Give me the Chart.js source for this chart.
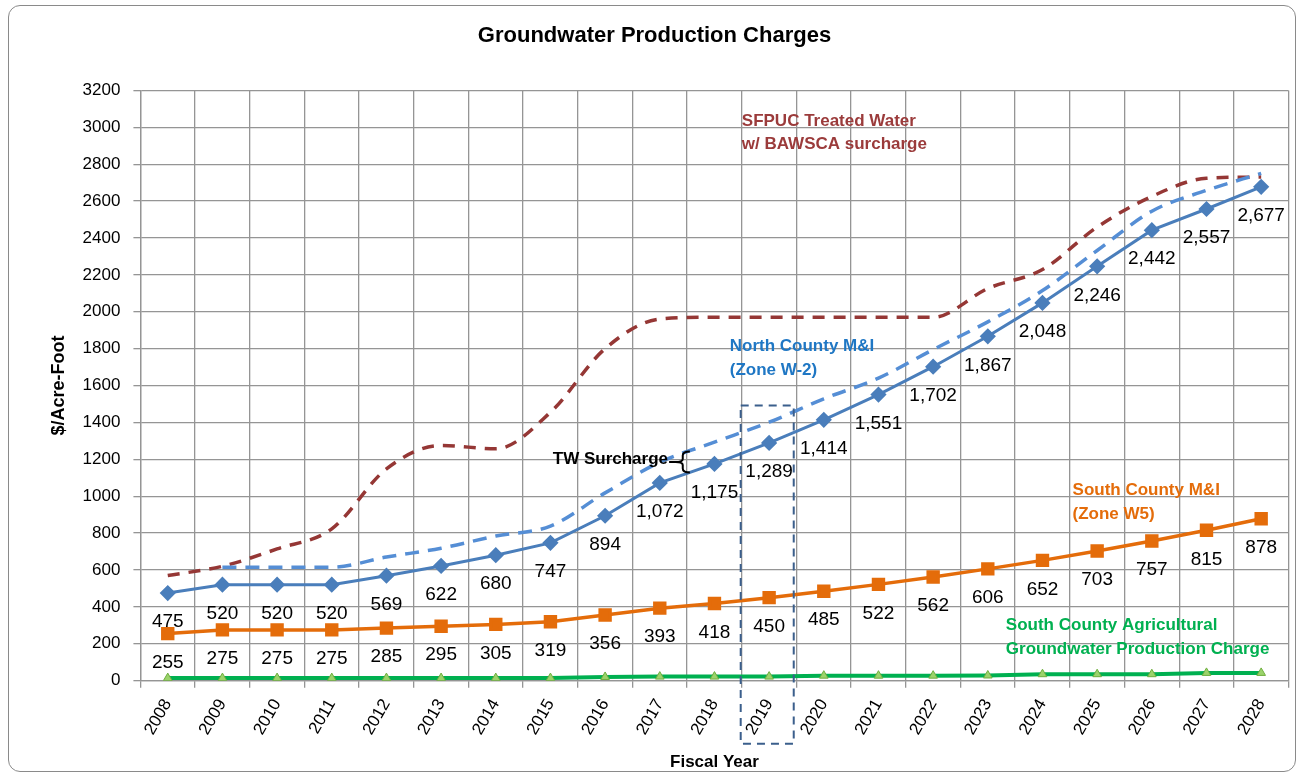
<!DOCTYPE html>
<html>
<head>
<meta charset="utf-8">
<title>Groundwater Production Charges</title>
<script src="https://cdn.jsdelivr.net/npm/chart.js@4.4.1/dist/chart.umd.min.js"></script>
<style>
  html, body { margin: 0; padding: 0; background: #fff; }
  #wrap { position: relative; width: 1299px; height: 775px; }
  #chart { position: absolute; left: 0; top: 0; }
  #frame { position: absolute; left: 8px; top: 5px; width: 1286px; height: 765px;
           border: 1px solid #8a8a8a; border-radius: 12px; pointer-events: none; }
</style>
</head>
<body>
<div id="wrap">
  <canvas id="chart" width="1299" height="775"></canvas>
  <div id="frame"></div>
</div>
<script>
// fiscal years on the x axis
const years = ['2008','2009','2010','2011','2012','2013','2014','2015','2016','2017','2018',
               '2019','2020','2021','2022','2023','2024','2025','2026','2027','2028'];

// $/acre-foot
const northCounty = [475, 520, 520, 520, 569, 622, 680, 747, 894, 1072, 1175,
                     1289, 1414, 1551, 1702, 1867, 2048, 2246, 2442, 2557, 2677];
const northWithSurcharge = [null, 615, 615, 615, 670, 718, 784, 838, 1018, 1184, 1293,
                            1401, 1528, 1640, 1795, 1945, 2115, 2332, 2545, 2658, 2750];
const sfpucTreated = [570, 620, 714, 823, 1148, 1275, 1257, 1455, 1800, 1960, 1970,
                      1970, 1970, 1970, 1970, 2126, 2229, 2459, 2625, 2724, 2730];
const southCounty = [255, 275, 275, 275, 285, 295, 305, 319, 356, 393, 418,
                     450, 485, 522, 562, 606, 652, 703, 757, 815, 878];
const southAg = [14, 14, 14, 14, 14, 14, 14, 14, 20, 22, 22,
                 22, 27, 27, 27, 28, 35, 35, 35, 42, 42];

const yMin = 0, yMax = 3200, yStep = 200;

const FONT = '"Liberation Sans", Arial, sans-serif';
const GRID = '#959595';

// value labels under the markers
const pointLabels = {
  id: 'pointLabels',
  afterDatasetsDraw(chart) {
    const ctx = chart.ctx;
    chart.data.datasets.forEach((ds, i) => {
      if (!ds.showValues) return;
      const meta = chart.getDatasetMeta(i);
      ctx.save();
      ctx.font = '19px ' + FONT;
      ctx.fillStyle = '#000';
      ctx.textAlign = 'center';
      ctx.textBaseline = 'middle';
      meta.data.forEach((pt, j) => {
        ctx.fillText(ds.data[j].toLocaleString('en-US'), pt.x, pt.y + 29);
      });
      ctx.restore();
    });
  }
};

// series names, the TW surcharge brace and the 2019 box
const notes = {
  id: 'notes',
  afterDatasetsDraw(chart) {
    const ctx = chart.ctx;
    const xs = chart.scales.x, ys = chart.scales.y;
    const X = v => xs.getPixelForValue(v), Y = v => ys.getPixelForValue(v);

    ctx.save();
    // current year box
    ctx.strokeStyle = '#3b5f8c';
    ctx.lineWidth = 2;
    ctx.setLineDash([8, 6]);
    ctx.strokeRect(X(10.48), Y(1492), X(11.45) - X(10.48), chart.chartArea.bottom + 63 - Y(1492));
    ctx.setLineDash([]);

    const text = (str, x, y, color, align) => {
      ctx.fillStyle = color;
      ctx.textAlign = align || 'left';
      ctx.fillText(str, x, y);
    };
    ctx.font = 'bold 17px ' + FONT;
    ctx.textBaseline = 'middle';
    text('SFPUC Treated Water', X(10.5), Y(3032), '#9b3b3b');
    text('w/ BAWSCA surcharge', X(10.5), Y(2907), '#9b3b3b');
    text('North County M&I', X(10.28), Y(1811), '#1f77c4');
    text('(Zone W-2)', X(10.28), Y(1681), '#1f77c4');
    text('South County M&I', X(16.55), Y(1030), '#e46c0a');
    text('(Zone W5)', X(16.55), Y(900), '#e46c0a');
    text('South County Agricultural', X(15.33), Y(298), '#00b050');
    text('Groundwater Production Charge', X(15.33), Y(168), '#00b050');
    text('TW Surcharge', X(9.15), Y(1199), '#000', 'right');

    // brace
    const bx = X(9.42), top = Y(1242), bot = Y(1128), mid = (top + bot) / 2;
    ctx.strokeStyle = '#000';
    ctx.lineWidth = 2;
    ctx.beginPath();
    ctx.moveTo(X(9.55), top);
    ctx.quadraticCurveTo(bx, top, bx, top + 4);
    ctx.lineTo(bx, mid - 3);
    ctx.quadraticCurveTo(bx, mid, X(9.29), mid);
    ctx.quadraticCurveTo(bx, mid, bx, mid + 3);
    ctx.lineTo(bx, bot - 4);
    ctx.quadraticCurveTo(bx, bot, X(9.55), bot);
    ctx.moveTo(X(9.29), mid);
    ctx.lineTo(X(9.17), mid);
    ctx.stroke();
    ctx.restore();
  }
};

new Chart(document.getElementById('chart'), {
  type: 'line',
  data: {
    labels: years,
    datasets: [
      {
        label: 'North County M&I (Zone W-2)',
        data: northCounty,
        borderColor: '#4a7ebb',
        backgroundColor: '#4a7ebb',
        borderWidth: 3,
        pointStyle: 'rectRot',
        pointRadius: 6,
        pointHoverRadius: 6,
        tension: 0,
        showValues: true,
        order: 1
      },
      {
        label: 'North County with TW surcharge',
        data: northWithSurcharge,
        borderColor: '#558ed5',
        borderWidth: 3.5,
        borderDash: [14, 9],
        pointRadius: 0,
        cubicInterpolationMode: 'monotone',
        order: 3
      },
      {
        label: 'SFPUC Treated Water w/ BAWSCA surcharge',
        data: sfpucTreated,
        borderColor: '#953735',
        borderWidth: 3.5,
        borderDash: [12, 9],
        pointRadius: 0,
        cubicInterpolationMode: 'monotone',
        order: 4
      },
      {
        label: 'South County M&I (Zone W5)',
        data: southCounty,
        borderColor: '#e46c0a',
        backgroundColor: '#e46c0a',
        borderWidth: 3.5,
        pointStyle: 'rect',
        pointRadius: 7,
        pointHoverRadius: 7,
        tension: 0,
        showValues: true,
        order: 2
      },
      {
        label: 'South County Agricultural Groundwater Production Charge',
        data: southAg,
        borderColor: '#00b050',
        backgroundColor: '#9bd36b',
        pointBorderColor: '#6fae3f',
        pointBorderWidth: 1,
        borderWidth: 4,
        pointStyle: 'triangle',
        pointRadius: 5,
        tension: 0,
        order: 5
      }
    ]
  },
  options: {
    responsive: false,
    animation: false,
    layout: { padding: { top: 9, left: 20, right: 10, bottom: 2 } },
    plugins: {
      legend: { display: false },
      tooltip: { enabled: false },
      title: {
        display: true,
        text: 'Groundwater Production Charges',
        color: '#000',
        font: { family: FONT, size: 22, weight: 'bold' },
        padding: { top: 14, bottom: 41 }
      }
    },
    scales: {
      x: {
        offset: true,
        grid: { offset: true, color: GRID, lineWidth: 1.3, tickLength: 7 },
        border: { color: GRID, width: 1.3 },
        ticks: { color: '#000', font: { family: FONT, size: 17 }, minRotation: 60, maxRotation: 60, padding: 8 },
        title: { display: true, text: 'Fiscal Year', color: '#000',
                 font: { family: FONT, size: 17, weight: 'bold' }, padding: { top: 6, bottom: 0 } }
      },
      y: {
        min: yMin,
        max: yMax,
        grid: { color: GRID, lineWidth: 1.3, tickLength: 7 },
        border: { color: GRID, width: 1.3 },
        ticks: { stepSize: yStep, color: '#000', font: { family: FONT, size: 17 }, padding: 13,
                 callback: v => String(v) },
        title: { display: true, text: '$/Acre-Foot', color: '#000',
                 font: { family: FONT, size: 18, weight: 'bold' }, padding: { top: 28, bottom: 0 } }
      }
    }
  },
  plugins: [pointLabels, notes]
});
</script>
</body>
</html>
